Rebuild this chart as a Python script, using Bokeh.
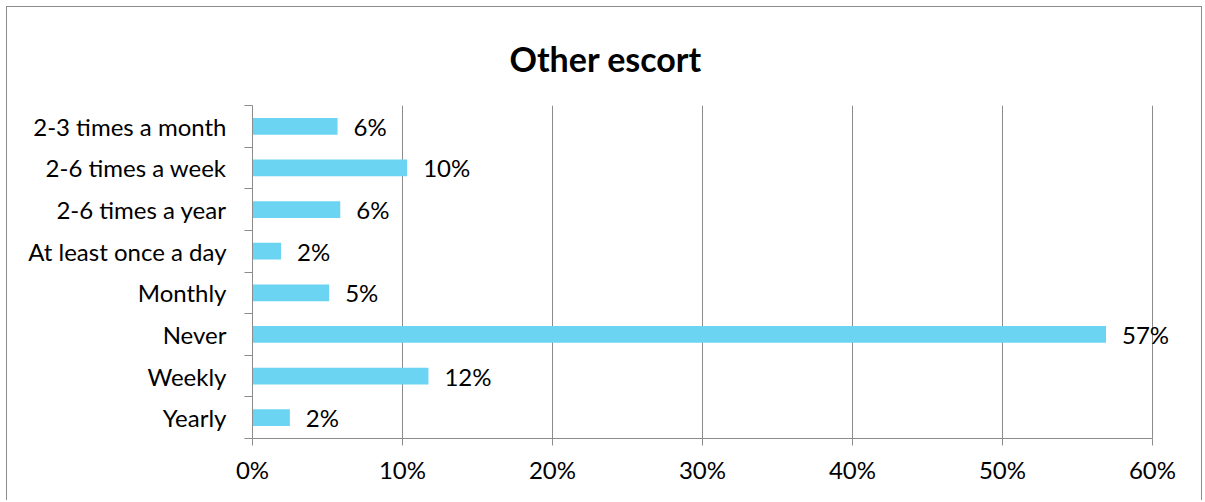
from bokeh.plotting import figure
from bokeh.models import (ColumnDataSource, Range1d, FixedTicker, PrintfTickFormatter,
                          LabelSet, Title)
from bokeh.core.properties import value
from bokeh.embed import file_html
from bokeh.resources import INLINE

categories = ["2-3 times a month", "2-6 times a week", "2-6 times a year",
              "At least once a day", "Monthly", "Never", "Weekly", "Yearly"]
values = [5.67, 10.31, 5.85, 1.9, 5.11, 56.9, 11.73, 2.49]
x_ticks = [0, 10, 20, 30, 40, 50, 60]
title_text = "Other escort"

FONT = "Lato"
n = len(categories)
ypos = [n - 1 - i for i in range(n)]
labels = [f"{round(v)}%" for v in values]

src = ColumnDataSource(dict(y=ypos, v=values, lab=labels, cat=categories))

p = figure(width=1196, height=494, output_backend="svg", toolbar_location=None,
           x_range=Range1d(0, 62), y_range=Range1d(-0.5, n - 0.5),
           min_border_left=245, min_border_right=21, min_border_top=98,
           min_border_bottom=63)
p.styles = {"border": "1px solid #8c8c8c", "border-bottom": "none",
            "margin": "6px 0 0 6px"}
p.outline_line_color = None

p.hbar(y="y", right="v", left=0, height=0.4, source=src,
       fill_color="#6AD4F2", line_color=None)

p.add_layout(LabelSet(x="v", y="y", text="lab", source=src, x_offset=16,
                      text_baseline="middle", text_font=value(FONT),
                      text_font_size="24px", text_color="#000000"))

# x axis
p.xaxis.ticker = FixedTicker(ticks=x_ticks)
p.xaxis.bounds = (0, 60)
p.xaxis.formatter = PrintfTickFormatter(format="%d%%")
p.xaxis.major_label_text_font = FONT
p.xaxis.major_label_text_font_size = "24px"
p.xaxis.major_label_text_color = "#000000"
p.xaxis.major_tick_out = 7
p.xaxis.major_tick_in = 0
p.xaxis.minor_tick_out = 0
p.xaxis.minor_tick_in = 0
p.xaxis.axis_line_color = "#8c8c8c"
p.xaxis.major_tick_line_color = "#8c8c8c"
p.xaxis.major_label_standoff = 9

# y axis
p.yaxis.ticker = FixedTicker(ticks=ypos, minor_ticks=[k - 0.5 for k in range(n + 1)])
p.yaxis.major_label_overrides = {ypos[i]: categories[i] for i in range(n)}
p.yaxis.major_label_text_font = FONT
p.yaxis.major_label_text_font_size = "24px"
p.yaxis.major_label_text_color = "#000000"
p.yaxis.major_tick_out = 0
p.yaxis.major_tick_in = 0
p.yaxis.minor_tick_out = 8
p.yaxis.minor_tick_in = 0
p.yaxis.minor_tick_line_color = "#8c8c8c"
p.yaxis.axis_line_color = "#8c8c8c"
p.yaxis.major_label_standoff = 18

p.xgrid.ticker = FixedTicker(ticks=x_ticks)
p.xgrid.grid_line_color = "#8c8c8c"
p.ygrid.grid_line_color = None

p.title = Title(text=title_text, align="left", offset=257, standoff=54,
                text_font=FONT, text_font_size="34px", text_font_style="bold",
                text_color="#000000")

open("out.html", "w").write(file_html(p, INLINE))
